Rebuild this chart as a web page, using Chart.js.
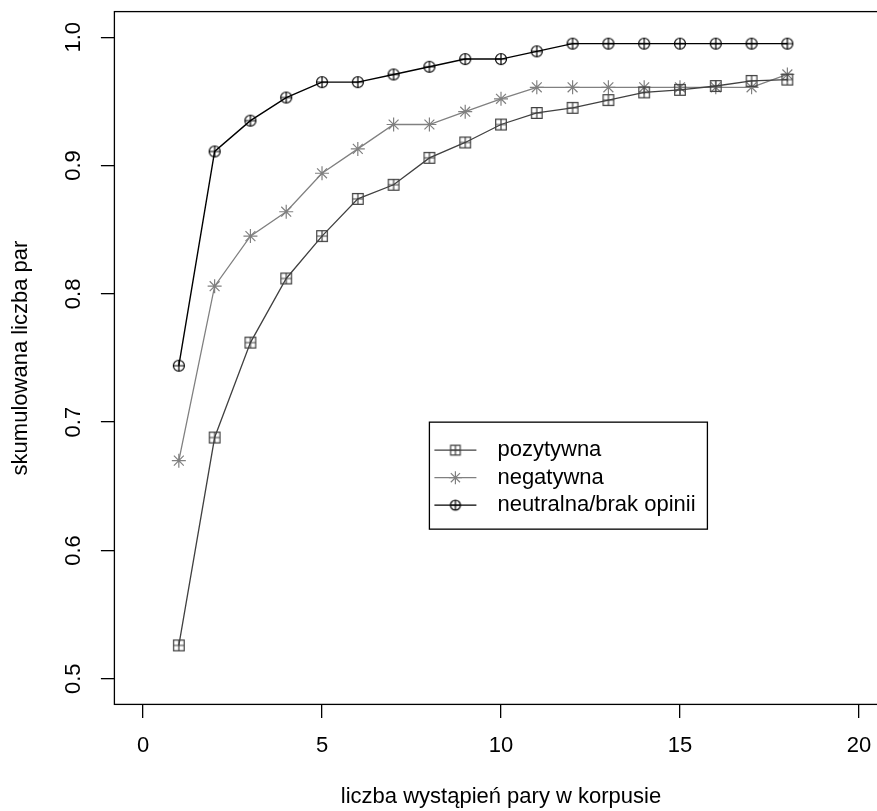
<!DOCTYPE html>
<html><head><meta charset="utf-8">
<script src="https://cdn.jsdelivr.net/npm/chart.js@4"></script>
<style>html,body{margin:0;padding:0;overflow:hidden;background:#fff}#wrap{width:910px;height:811px}</style>
</head><body><div id="wrap"><canvas id="c" width="910" height="811"></canvas></div>
<script>
const xValues   = [1,2,3,4,5,6,7,8,9,10,11,12,13,14,15,16,17,18];
const pozytywna = [0.526,0.688,0.762,0.812,0.845,0.874,0.885,0.906,0.918,0.932,0.941,0.945,0.951,0.957,0.959,0.962,0.966,0.967];
const negatywna = [0.670,0.806,0.845,0.864,0.894,0.913,0.932,0.932,0.942,0.952,0.961,0.961,0.961,0.961,0.961,0.961,0.961,0.971];
const neutralna = [0.744,0.911,0.935,0.953,0.965,0.965,0.971,0.977,0.983,0.983,0.989,0.995,0.995,0.995,0.995,0.995,0.995,0.995];
const seriesNames = ['pozytywna','negatywna','neutralna/brak opinii'];
const xTicks = [0,5,10,15,20];
const yTicks = [0.5,0.6,0.7,0.8,0.9,1.0];
const xTitle = 'liczba wystąpień pary w korpusie';
const yTitle = 'skumulowana liczba par';
const legendAt = [8, 0.70];

const FONT = '"Liberation Sans", Arial, Helvetica, sans-serif';
const FS = 22;

function makeSym(kind, color, h) {
  const c = document.createElement('canvas');
  const s = 16; c.width = s; c.height = s;
  const g = c.getContext('2d');
  g.strokeStyle = color; g.lineWidth = 1.2;
  const m = s / 2;
  g.beginPath();
  if (kind === 'sq') { g.rect(m - h, m - h, 2 * h, 2 * h); }
  else { g.arc(m, m, h, 0, Math.PI * 2); }
  g.moveTo(m - h, m); g.lineTo(m + h, m);
  g.moveTo(m, m - h); g.lineTo(m, m + h);
  g.stroke();
  return c;
}
const symPoz = makeSym('sq', '#404040', 5.3);
const symNeu = makeSym('ci', '#000000', 5.5);
const symPozL = makeSym('sq', '#404040', 4.8);
const symNeuL = makeSym('ci', '#000000', 5.0);

const toPts = arr => xValues.map((x, i) => ({x: x, y: arr[i]}));

const datasets = [
  {label: seriesNames[0], data: toPts(pozytywna), borderColor: '#404040', borderWidth: 1.3,
   pointStyle: symPoz, legendStyle: symPozL, pointBorderColor: '#404040', pointRadius: 6},
  {label: seriesNames[1], data: toPts(negatywna), borderColor: '#808080', borderWidth: 1.3,
   pointStyle: 'star', legendStyle: 'star', pointBorderColor: '#808080', pointBorderWidth: 1.2, pointRadius: 7, pointBackgroundColor: '#808080'},
  {label: seriesNames[2], data: toPts(neutralna), borderColor: '#000000', borderWidth: 1.4,
   pointStyle: symNeu, legendStyle: symNeuL, pointBorderColor: '#000000', pointRadius: 6}
];

const boxPlugin = {
  id: 'box',
  afterDraw(chart) {
    const {ctx, chartArea: a} = chart;
    ctx.save();
    ctx.strokeStyle = '#000'; ctx.lineWidth = 1.3;
    ctx.strokeRect(a.left, a.top, a.right - a.left, a.bottom - a.top);
    ctx.restore();
  }
};

const legendPlugin = {
  id: 'rlegend',
  afterDatasetsDraw(chart) {
    const {ctx, scales: {x, y}} = chart;
    const L = x.getPixelForValue(legendAt[0]);
    const T = y.getPixelForValue(legendAt[1]);
    const W = 278, H = 107;
    ctx.save();
    ctx.fillStyle = '#fff';
    ctx.fillRect(L, T, W, H);
    ctx.strokeStyle = '#000'; ctx.lineWidth = 1.3;
    ctx.strokeRect(L, T, W, H);
    ctx.font = FS + 'px ' + FONT;
    ctx.textBaseline = 'middle'; ctx.textAlign = 'left';
    chart.data.datasets.forEach((ds, i) => {
      const cy = T + 28 + i * 27.5;
      ctx.strokeStyle = ds.borderColor; ctx.lineWidth = 1.2;
      ctx.beginPath(); ctx.moveTo(L + 5, cy); ctx.lineTo(L + 47, cy); ctx.stroke();
      ctx.strokeStyle = ds.pointBorderColor; ctx.fillStyle = ds.pointBorderColor; ctx.lineWidth = 1.2;
      Chart.helpers.drawPoint(ctx, {pointStyle: ds.legendStyle, radius: 6.5, borderWidth: 1.2, rotation: 0}, L + 26, cy);
      ctx.fillStyle = '#000';
      ctx.fillText(ds.label, L + 68, cy);
    });
    ctx.restore();
  }
};

new Chart(document.getElementById('c'), {
  type: 'line',
  data: {datasets: datasets},
  plugins: [boxPlugin, legendPlugin],
  options: {
    responsive: false, animation: false, devicePixelRatio: 1,
    layout: {padding: {top: 11.6, right: 22.4, left: 0, bottom: 0}},
    elements: {line: {tension: 0, fill: false}},
    plugins: {legend: {display: false}, tooltip: {enabled: false}},
    scales: {
      x: {
        type: 'linear', min: -0.8, max: 20.8,
        afterBuildTicks: s => { s.ticks = xTicks.map(v => ({value: v})); },
        afterFit: s => { s.height = 106.6; s.paddingLeft = 0; s.paddingRight = 0; },
        border: {display: false},
        grid: {display: true, drawOnChartArea: false, drawTicks: true, tickLength: 13.5, color: '#000', lineWidth: 1.3},
        ticks: {color: '#000', font: {family: FONT, size: FS}, padding: 14.5, maxRotation: 0, autoSkip: false,
                callback: v => String(v)},
        title: {display: true, text: xTitle, color: '#000', font: {family: FONT, size: FS}, padding: {top: 0, bottom: 0.5}}
      },
      y: {
        type: 'linear', min: 0.48, max: 1.02,
        afterBuildTicks: s => { s.ticks = yTicks.map(v => ({value: v})); },
        afterFit: s => { s.width = 114.4; s.paddingTop = 0; s.paddingBottom = 0; },
        border: {display: false},
        grid: {display: true, drawOnChartArea: false, drawTicks: true, tickLength: 13.5, color: '#000', lineWidth: 1.3},
        ticks: {color: '#000', font: {family: FONT, size: FS}, padding: 11.5, minRotation: 90, maxRotation: 90,
                crossAlign: 'center', autoSkip: false, callback: v => v.toFixed(1)},
        title: {display: true, text: yTitle, color: '#000', font: {family: FONT, size: FS}, padding: {top: 8, bottom: 0}}
      }
    }
  }
});
</script>
</body></html>
